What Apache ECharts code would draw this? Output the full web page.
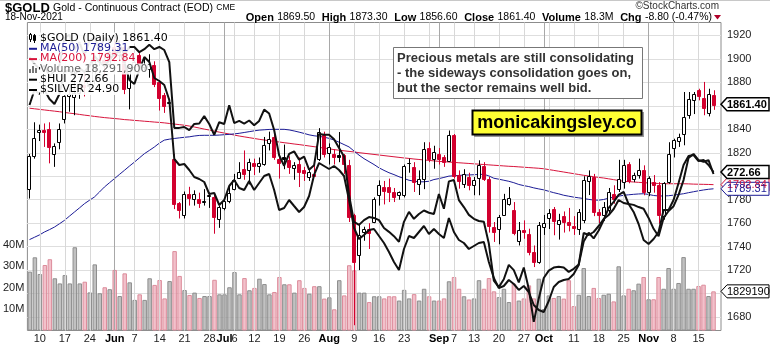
<!DOCTYPE html>
<html><head><meta charset="utf-8">
<script src="https://cdn.jsdelivr.net/npm/echarts@6/dist/echarts.min.js"></script>
<style>html,body{margin:0;padding:0;background:#fff;}#c{width:770px;height:346px;}</style>
</head><body><div id="c"></div>
<script>
// ---------- DATA ----------
const dates = [
'2021-05-06','2021-05-07','2021-05-10','2021-05-11','2021-05-12','2021-05-13','2021-05-14','2021-05-17','2021-05-18','2021-05-19','2021-05-20','2021-05-21','2021-05-24','2021-05-25','2021-05-26','2021-05-27','2021-05-28',
'2021-06-01','2021-06-02','2021-06-03','2021-06-04','2021-06-07','2021-06-08','2021-06-09','2021-06-10','2021-06-11','2021-06-14','2021-06-15','2021-06-16','2021-06-17','2021-06-18','2021-06-21','2021-06-22','2021-06-23','2021-06-24','2021-06-25','2021-06-28','2021-06-29','2021-06-30',
'2021-07-01','2021-07-02','2021-07-06','2021-07-07','2021-07-08','2021-07-09','2021-07-12','2021-07-13','2021-07-14','2021-07-15','2021-07-16','2021-07-19','2021-07-20','2021-07-21','2021-07-22','2021-07-23','2021-07-26','2021-07-27','2021-07-28','2021-07-29','2021-07-30',
'2021-08-02','2021-08-03','2021-08-04','2021-08-05','2021-08-06','2021-08-09','2021-08-10','2021-08-11','2021-08-12','2021-08-13','2021-08-16','2021-08-17','2021-08-18','2021-08-19','2021-08-20','2021-08-23','2021-08-24','2021-08-25','2021-08-26','2021-08-27','2021-08-30','2021-08-31',
'2021-09-01','2021-09-02','2021-09-03','2021-09-07','2021-09-08','2021-09-09','2021-09-10','2021-09-13','2021-09-14','2021-09-15','2021-09-16','2021-09-17','2021-09-20','2021-09-21','2021-09-22','2021-09-23','2021-09-24','2021-09-27','2021-09-28','2021-09-29','2021-09-30',
'2021-10-01','2021-10-04','2021-10-05','2021-10-06','2021-10-07','2021-10-08','2021-10-11','2021-10-12','2021-10-13','2021-10-14','2021-10-15','2021-10-18','2021-10-19','2021-10-20','2021-10-21','2021-10-22','2021-10-25','2021-10-26','2021-10-27','2021-10-28','2021-10-29',
'2021-11-01','2021-11-02','2021-11-03','2021-11-04','2021-11-05','2021-11-08','2021-11-09','2021-11-10','2021-11-11','2021-11-12','2021-11-15','2021-11-16','2021-11-17','2021-11-18'];

const opens = [1789,1818,1837,1839,1840,1819,1829,1848,1868,1868,1871,1878,1877,1882,1898,1899,1896,
1910,1903,1910,1875,1893,1903,1893,1892,1895,1880,1869,1862,1815,1777,1767,1785,1781,1781,1778,1783,1782,1764,
1773,1779,1789,1799,1806,1806,1811.5,1809,1811,1829,1833.5,1814.5,1816.4,1814,1806.4,1810.7,1805,1799.4,1802,1815,1835.4,
1820,1819.2,1818,1818,1809.9,1766.7,1732.6,1752.4,1755,1761,1783.8,1791,1790.8,1787,1784.3,1784,1810.7,1808,1793.6,1797.9,1824,1815,
1819.2,1816,1813.6,1835.4,1800.8,1793.6,1799,1792.3,1797.9,1808.7,1797.9,1756.7,1755.3,1767.2,1776.6,1771,1744.5,1754,1751,1735.4,1726.9,
1757,1764.4,1772.3,1760,1766,1761,1758,1755.3,1762.4,1795.7,1799.4,1769.5,1766.7,1771,1785,1789.4,1795.1,1810.7,1797.4,1800.8,1805,
1786.6,1795,1792.3,1766.7,1795.1,1823.5,1829.8,1836.3,1852,1865.6,1873.8,1866.7,1854.2,1869.5];
const highs = [1819,1846,1844,1845,1846,1828,1845,1869,1875,1890,1882,1890,1886,1900,1913,1905,1913,
1917,1916,1911,1894,1902,1905,1900,1904,1898,1882,1871,1866,1819,1778,1787,1791,1788,1786,1789,1786,1784,1775,
1780,1792,1802,1812,1822,1815,1815,1816,1833.5,1838,1840,1819,1827,1817,1812,1816,1808,1806,1810.7,1841,1838,
1828,1823,1837.7,1819,1814,1768,1759,1757,1760,1782,1796.5,1796,1798,1790,1787,1810,1815,1812,1805,1829,1829,1826,
1824,1818,1839,1836,1805,1806,1803,1799.4,1813.6,1812,1799.4,1761,1767,1785,1790.8,1778,1761,1762.4,1755.3,1741,1761,
1767,1772,1773.8,1768,1770,1773,1766,1772,1800,1805,1802,1772,1778,1790,1792.3,1814,1814,1812,1803,1815,1809.3,
1800,1801,1795,1795,1829,1832,1836.3,1871.8,1871.8,1871.8,1874.6,1880.4,1874.6,1873.3];
const lows = [1781,1815,1830,1825,1811,1808,1823,1845,1855,1852,1866,1868,1874,1878,1894,1885,1893,
1900,1898,1870,1857,1889,1888,1889,1884,1876,1856,1854,1859,1772,1764,1764,1775,1775,1773,1775,1773,1751,1756,
1771,1777,1788,1798,1797,1793,1801,1803,1809,1822,1814,1798,1806,1802,1797,1790.8,1796,1796,1800,1813,1816,
1810,1810,1812,1802,1761,1673,1720,1745,1738,1760,1775,1776,1778,1778,1780,1782,1803,1786.6,1784,1789,1812,1806.4,
1810,1808,1812.7,1798,1789.4,1790,1788,1783.8,1783.8,1796,1752,1744,1742,1766.7,1775,1749.7,1741,1746.7,1732.6,1722.6,1725.4,
1750,1755,1749.7,1746,1752,1753,1750,1750,1760,1784,1766,1760,1762,1768,1776.6,1786.6,1789.4,1794,1795,1798,1783.8,
1783,1786,1759.5,1763,1793.6,1816,1825,1826.4,1849,1853,1864.7,1852,1851,1856.6];
const closes = [1817,1833,1839,1837,1825,1826,1840,1868,1870,1871,1878,1876,1882,1898,1900,1896,1906,
1904,1909,1874,1892,1897,1894,1895,1896,1879,1866,1860,1863,1777,1771,1785,1782,1785,1778,1779,1784,1765,1774,
1779,1786,1796.5,1804,1802,1812.5,1808.7,1811.5,1827,1832,1816.4,1811.5,1814.4,1808,1809.3,1804.2,1802.2,1803.6,1800.5,1837.7,1819.2,
1825,1816.4,1816.5,1810.7,1765.2,1727,1749.7,1755.3,1752,1780.9,1792.3,1788,1786.6,1783,1786.6,1808.7,1810.9,1795,1797.9,1823.5,1815,1820.7,
1815,1812,1835.4,1800.8,1795.7,1802.2,1792,1796.5,1809.3,1798,1758.2,1752.5,1765.3,1780.9,1781.5,1751,1754,1752,1735.4,1726.9,1758.7,
1760,1769,1762.4,1763,1761,1758.7,1756,1769.5,1796.5,1800.2,1769.5,1767,1773.8,1786.6,1780.9,1797.9,1809.3,1796.5,1800.8,1805,1786.6,
1798.5,1792.3,1766.7,1794.5,1819.2,1830.6,1833.5,1850.5,1865.6,1870.4,1868.4,1858.2,1870.2,1861.4];
// volume in millions
const volumesM = [27.5,34.2,26.4,30.6,33.3,24.4,22,25.9,22,38.9,
22,22.8,17.8,30.9,17.4,20.2,19.3,28.3,16.1,26.7,
22.5,14.3,16.9,14.3,24.4,21.3,23.6,15,23.1,37.1,
25.5,18.9,16.6,17.7,15.2,16.1,16.1,23.7,16.9,16.9,
20.2,27.3,16.9,24.5,18.8,19.9,24.2,21.7,16.9,18,
25,21.6,21.6,17.7,23.5,19.9,17.2,20.7,20.7,14.9,
15.5,9.9,23.5,16.4,30.5,28.1,17.7,17.7,13.3,16,
16,15,16,16,14,19,15,17,14,19.5,
16,14,14,15,23,25,19.5,16,14.5,15,
23.5,19.5,24.5,18.3,15.6,19.5,13.3,21.9,14,15,
21.1,15,24.2,10,16.4,15.2,16.1,14.9,23.5,11.4,
16.7,29.2,16.1,19.9,15.2,16.7,17.2,13.6,30,16.4,
19.5,18.8,21.9,25,14.6,14.6,25,19.5,29.2,19.5,
22.2,34.3,19.5,19.5,20.8,21.4,16.1,18.2919];
const ma50 = [1746,1748,1750,1752.5,1754.5,1756.7,1759.5,1762.4,1766,1769.5,
1773,1776.6,1779.5,1782.3,1786.5,1790.8,1794.4,1797.9,1801.5,1805,
1808.6,1812,1815.6,1819.2,1822,1824.9,1828.2,1830.8,1831.6,1832.2,
1832.7,1833.2,1833.6,1834.3,1834.8,1834.9,1834.9,1834.9,1835.1,1835.4,
1835.7,1836.1,1836.6,1837.3,1838,1838.7,1839.3,1839.6,1839.9,1840,
1840,1840,1839.5,1838.6,1837.6,1836.5,1835.3,1834.5,1834,1833.3,
1832.3,1830.9,1829,1827,1825,1821.5,1818,1815,1812.5,1810,
1807.2,1805,1803,1801.4,1799.6,1798.1,1796.6,1795.8,1795.2,1795.3,
1795.7,1797.2,1798,1799,1800.1,1800.4,1800.7,1801,1801.1,1801.3,
1801.5,1801.7,1800.3,1798.3,1797.5,1796.6,1795.7,1794.5,1793,1792,
1791.2,1790.1,1789.2,1788.4,1787.2,1786,1785,1783.8,1783,1782.2,
1781.6,1781,1780.3,1779.7,1779.6,1780.2,1781.3,1782.2,1783,1783.8,
1784.2,1784.6,1784.9,1785.1,1784.5,1783.6,1783.2,1783.2,1783.4,1783.9,
1784.5,1785.1,1786,1786.8,1787.6,1788.3,1788.9,1789.31];
const ma200 = [1858,1857.5,1857,1856.5,1856,1855.5,1855,1854.4,1853.8,1853.3,
1852.7,1852.1,1851.6,1851,1850.5,1850,1849.6,1849.2,1848.8,1848.3,
1848,1847.6,1847.3,1846.9,1846.6,1846.2,1845.9,1845.5,1845,1844.5,
1844,1843.5,1842.8,1842,1841.1,1840.2,1839.4,1838.5,1837.6,1836.8,
1836,1835.1,1834.3,1833.6,1832.9,1832.2,1831.5,1830.9,1830.3,1829.7,
1829.2,1828.6,1828.1,1827.5,1827,1826.4,1825.8,1825.2,1824.6,1824,
1823.4,1822.7,1822.2,1821.7,1821.2,1820.7,1820.1,1819.6,1819.1,1818.6,
1818.1,1817.6,1817.1,1816.6,1816.1,1815.6,1815.2,1814.7,1814.3,1813.9,
1813.5,1813.1,1812.7,1812.4,1812.1,1811.8,1811.5,1811.2,1810.9,1810.6,
1810.3,1810,1809.7,1809.4,1809.1,1808.8,1808.5,1808.3,1808,1807.7,
1807.4,1807.1,1806.8,1806.4,1805.7,1805,1804.3,1803.6,1802.9,1802.2,
1801.5,1800.8,1800.2,1799.6,1799,1798.5,1797.8,1797.1,1796.4,1795.7,
1795.4,1795.1,1794.8,1794.5,1794.3,1794.1,1793.8,1793.6,1793.6,1793.6,
1793.6,1793.6,1793.5,1793.3,1793.2,1793.1,1793,1792.84];
const hui = [298.43,304.20,302.66,304.20,300.74,298.81,302.66,311.12,311.89,309.58,
312.66,311.12,313.43,317.28,314.97,313.43,315.74,318.04,318.81,314.97,
308.04,306.51,311.89,316.89,314.97,308.81,307.66,306.12,300.35,277.66,
275.35,275.74,273.43,270.74,269.97,268.81,264.20,264.58,259.97,261.89,
267.28,269.58,266.51,265.74,269.20,265.74,268.43,271.12,271.89,265.74,
258.04,258.81,261.89,259.58,257.28,259.20,263.43,271.51,276.12,274.97,
273.81,274.97,273.43,271.12,261.89,251.12,246.89,248.43,250.35,250.74,
248.04,245.35,241.89,238.04,234.97,243.04,248.04,247.28,249.58,251.89,
248.81,250.74,248.81,247.28,254.97,249.58,246.51,245.35,243.04,244.20,
245.35,245.74,238.04,231.89,228.04,228.81,231.12,229.58,227.28,228.81,
226.51,221.51,219.58,218.81,223.04,228.43,230.35,231.12,231.51,233.43,
236.89,249.20,248.43,249.58,251.89,254.58,256.12,258.43,261.89,260.74,
260.35,257.28,252.66,246.51,244.97,246.89,249.58,258.04,258.04,261.89,
268.43,275.35,278.81,279.20,276.89,277.28,275.35,272.66];
const silver = [27.59,27.43,27.32,27.39,27.15,27.27,27.40,28.03,28.10,27.76,
27.93,27.62,27.96,28.06,27.73,28.03,27.97,28.10,27.88,27.64,
27.82,27.82,27.70,27.77,27.87,27.77,27.82,27.75,27.47,25.96,
25.96,25.98,25.91,26.05,26.06,26.23,26.05,25.80,26.09,26.05,
26.48,26.07,26.12,26.06,26.13,26.02,26.12,26.38,26.29,25.91,
25.33,25.09,25.36,25.42,25.23,25.30,25.00,25.10,25.82,25.80,
25.80,25.70,25.50,25.30,24.42,23.80,23.73,23.84,23.91,23.89,
23.84,23.66,23.57,23.47,23.34,23.80,24.03,23.87,23.98,24.06,
24.01,23.98,24.44,24.10,24.73,24.76,24.30,24.14,23.96,23.87,
23.82,23.80,23.30,22.45,22.30,22.48,22.81,22.69,22.41,22.75,
22.26,21.50,22.04,22.51,22.68,22.75,22.77,22.75,22.65,22.72,
22.82,23.35,23.55,23.42,23.60,23.84,24.12,24.26,24.42,24.49,
24.21,24.19,24.14,24.10,23.89,23.64,23.47,23.89,24.05,24.16,
24.42,24.76,25.27,25.36,25.22,25.18,25.22,24.90];

const tickDates = ['2021-05-10','2021-05-17','2021-05-24','2021-06-01','2021-06-07','2021-06-14','2021-06-21','2021-06-28','2021-07-01','2021-07-06','2021-07-12','2021-07-19','2021-07-26','2021-08-02','2021-08-09','2021-08-16','2021-08-23','2021-09-01','2021-09-07','2021-09-13','2021-09-20','2021-09-27','2021-10-01','2021-10-11','2021-10-18','2021-10-25','2021-11-01','2021-11-08','2021-11-15'];
const tickLabels = ['10','17','24','Jun','7','14','21','28','Jul','6','12','19','26','Aug','9','16','23','Sep','7','13','20','27','Oct','11','18','25','Nov','8','15'];
const weekLineDates = ['2021-05-10','2021-05-17','2021-05-24','2021-06-07','2021-06-14','2021-06-21','2021-06-28','2021-07-06','2021-07-12','2021-07-19','2021-07-26','2021-08-09','2021-08-16','2021-08-23','2021-08-30','2021-09-07','2021-09-13','2021-09-20','2021-09-27','2021-10-04','2021-10-11','2021-10-18','2021-10-25','2021-11-08','2021-11-15'];
const monthLineDates = ['2021-06-01','2021-07-01','2021-08-02','2021-09-01','2021-10-01','2021-11-01'];
const noteLines = ['Precious metals are still consolidating','- the sideways consolidation goes on,','but the sector remains well bid.'];
const siteText = 'monicakingsley.co';
const lastVolumeShares = 18291900;

// ---------- CHART ----------
const RED = '#d2002e', NAVY = '#1c1c96', MARED = '#d8143c';
const FONT = '"Liberation Sans", Arial, sans-serif';
const LFONT = '"DejaVu Sans", Verdana, sans-serif';
const N = dates.length;
const cats = dates.concat(['']); // one empty slot at the right edge, as in the reference
const labelMap = {};
tickDates.forEach((d, k) => { labelMap[d] = tickLabels[k]; });

const candleData = dates.map((d, i) => [i, opens[i], highs[i], lows[i], closes[i]]);
const upVol = {color: 'rgba(172,172,172,0.75)', borderColor: '#8e8e8e', borderWidth: 1};
const dnVol = {color: 'rgba(238,176,188,0.78)', borderColor: '#dc8c9b', borderWidth: 1};
const volData = volumesM.map((v, i) => ({value: v, itemStyle: (i === 0 || closes[i] >= closes[i - 1]) ? upVol : dnVol}));

function renderCandle(params, api) {
  const i = api.value(0);
  const o = api.value(1), h = api.value(2), l = api.value(3), c = api.value(4);
  const prev = i > 0 ? closes[i - 1] : o;
  const col = c >= prev ? '#000' : RED;
  const pO = api.coord([i, o]), pC = api.coord([i, c]);
  const pH = api.coord([i, h]), pL = api.coord([i, l]);
  const xc = Math.round(pO[0]);
  const top = Math.min(pO[1], pC[1]), bot = Math.max(pO[1], pC[1]);
  const hollow = c > o;
  return {type: 'group', children: [
    {type: 'line', shape: {x1: xc + 0.5, y1: pH[1], x2: xc + 0.5, y2: pL[1]}, style: {stroke: col, lineWidth: 1}},
    {type: 'rect', shape: {x: xc - 1.5, y: Math.round(top) + 0.5, width: 3, height: Math.max(Math.round(bot - top), 0)},
      style: {fill: hollow ? '#fff' : col, stroke: col, lineWidth: 1}}
  ]};
}

const chart = echarts.init(document.getElementById('c'), null, {renderer: 'canvas'});
const baseOption = {
  animation: false,
  backgroundColor: '#fff',
  grid: [
    {left: 27, right: 49, top: 12, bottom: 5.5, show: false},
    {left: 27, right: 49, top: 22.5, bottom: 15.5, show: true, borderColor: '#8c8c8c', borderWidth: 1}
  ],
  xAxis: [
    {gridIndex: 0, type: 'category', data: cats, show: false},
    {gridIndex: 1, type: 'category', data: cats, axisLine: {show: false}, axisTick: {show: false}, splitLine: {show: false},
      axisLabel: {interval: 0, margin: 3, fontSize: 11, fontFamily: FONT, color: '#222',
        formatter: function (v) { const t = labelMap[v]; if (!t) return ''; return isNaN(+t) ? '{m|' + t + '}' : t; },
        rich: {m: {fontWeight: 'bold', fontSize: 11, fontFamily: FONT, color: '#000'}}}}
  ],
  yAxis: [
    {gridIndex: 0, type: 'value', position: 'right', min: 1660, max: 1940, interval: 20,
      axisLine: {show: false}, axisTick: {show: false},
      axisLabel: {margin: 6, showMinLabel: false, showMaxLabel: false, fontSize: 11, fontFamily: FONT, color: '#222', formatter: v => String(v)},
      splitLine: {show: true, showMinLine: false, showMaxLine: false, lineStyle: {color: '#dedede', width: 1}}},
    {gridIndex: 0, type: 'value', min: 207.85, max: 334.2, show: false, splitLine: {show: false}},
    {gridIndex: 0, type: 'value', min: 21.0724, max: 28.624, show: false, splitLine: {show: false}},
    {gridIndex: 1, type: 'value', position: 'left', min: 0, max: 143.9, interval: 10,
      axisLine: {show: false}, axisTick: {show: false}, splitLine: {show: false},
      axisLabel: {margin: 3, fontSize: 11, fontFamily: FONT, color: '#222', formatter: v => (v >= 10 && v <= 40) ? v + 'M' : ''}}
  ],
  series: [
    {type: 'bar', name: 'Volume', xAxisIndex: 1, yAxisIndex: 3, data: volData, barCategoryGap: '10%', z: 1, silent: true,
      markLine: {silent: true, symbol: ['none', 'none'], label: {show: false}, animation: false,
        data: weekLineDates.map(d => ({xAxis: d, lineStyle: {color: '#d8d8d8', width: 1, type: 'solid'}}))
          .concat(monthLineDates.map(d => ({xAxis: d, lineStyle: {color: '#a8a8a8', width: 1, type: 'solid'}})))}},
    {type: 'line', name: 'MA200', xAxisIndex: 0, yAxisIndex: 0, data: ma200, symbol: 'none', z: 3, silent: true,
      lineStyle: {color: MARED, width: 1}},
    {type: 'line', name: 'MA50', xAxisIndex: 0, yAxisIndex: 0, data: ma50, symbol: 'none', z: 3, silent: true,
      lineStyle: {color: NAVY, width: 1}},
    {type: 'custom', name: '$GOLD', xAxisIndex: 0, yAxisIndex: 0, data: candleData, renderItem: renderCandle, z: 5, silent: true,
      encode: {x: 0, y: [1, 2, 3, 4]}},
    {type: 'line', name: '$HUI', xAxisIndex: 0, yAxisIndex: 1, data: hui, symbol: 'none', z: 6, silent: true,
      lineStyle: {color: '#111', width: 2}},
    {type: 'line', name: '$SILVER', xAxisIndex: 0, yAxisIndex: 2, data: silver, symbol: 'none', z: 6, silent: true,
      lineStyle: {color: '#111', width: 2}}
  ]
};
chart.setOption(baseOption);

// ---------- TEXT / ANNOTATIONS ----------
const L = N - 1;
const chg = closes[L] - closes[L - 1];
const pct = chg / closes[L - 1] * 100;
const f2 = v => v.toFixed(2);
const g = [];
g.push({type: 'line', z: 100, shape: {x1: 0, y1: 0.5, x2: 770, y2: 0.5}, style: {stroke: '#c8c8c8', lineWidth: 1}});
g.push({type: 'text', z: 100, style: {x: 5, y: 8, textVerticalAlign: 'middle',
  text: '{a|$GOLD} {b|Gold - Continuous Contract (EOD)} {c|CME}',
  rich: {a: {font: 'bold 13px ' + FONT, fill: '#000'}, b: {font: '10.5px ' + FONT, fill: '#000'}, c: {font: '8.5px ' + FONT, fill: '#000'}}}});
g.push({type: 'text', z: 100, style: {x: 5, y: 17.5, textVerticalAlign: 'middle', text: '18-Nov-2021', font: '10px ' + FONT, fill: '#000'}});
g.push({type: 'text', z: 100, style: {x: 719, y: 6.5, textAlign: 'right', textVerticalAlign: 'middle', text: '\u00a9StockCharts.com', font: '10px ' + FONT, fill: '#333'}});
g.push({type: 'text', z: 100, style: {x: 712, y: 17.5, textAlign: 'right', textVerticalAlign: 'middle',
  text: '{b|Open} {n|' + f2(opens[L]) + '}  {b|High} {n|' + f2(highs[L]) + '}  {b|Low} {n|' + f2(lows[L]) + '}  {b|Close} {n|' + f2(closes[L]) +
        '}  {b|Volume} {n|' + (lastVolumeShares / 1e6).toFixed(1) + 'M}  {b|Chg} {n|' + f2(chg) + ' (' + f2(pct) + '%)}',
  rich: {b: {font: 'bold 11px ' + FONT, fill: '#000'}, n: {font: '10.5px ' + FONT, fill: '#000'}}}});
g.push({type: 'polygon', z: 100, shape: {points: [[714, 15], [721, 15], [717.5, 19.5]]}, style: {fill: '#b0002a'}});

// legend rows
const legendRows = [
  {text: '$GOLD (Daily) ' + f2(closes[L]), color: '#000', icon: 'candle'},
  {text: 'MA(50) ' + f2(ma50[L]), color: NAVY, icon: 'line', ic: NAVY},
  {text: 'MA(200) ' + f2(ma200[L]), color: MARED, icon: 'line', ic: MARED},
  {text: 'Volume ' + lastVolumeShares.toLocaleString('en-US'), color: '#666', icon: 'bars'},
  {text: '$HUI ' + f2(hui[L]), color: '#000', icon: 'line', ic: '#000'},
  {text: '$SILVER ' + f2(silver[L]), color: '#000', icon: 'line', ic: '#000'}
];
legendRows.forEach((r, k) => {
  const y = 38 + k * 10.3;
  g.push({type: 'rect', z: 99, shape: {x: 28, y: y - 5, width: 11, height: 10}, style: {fill: 'rgba(255,255,255,0.9)'}});
  g.push({type: 'text', z: 100, style: {x: 40, y: y, textVerticalAlign: 'middle', text: r.text, font: '11px ' + LFONT, fill: r.color,
    backgroundColor: 'rgba(255,255,255,0.9)', padding: [0, 1, 0, 0]}});
  if (r.icon === 'line') {
    g.push({type: 'line', z: 101, shape: {x1: 29, y1: y + 0.5, x2: 37, y2: y + 0.5}, style: {stroke: r.ic, lineWidth: 2}});
  } else if (r.icon === 'bars') {
    [[29, 4], [32, 7], [35, 5]].forEach(b => g.push({type: 'rect', z: 101, shape: {x: b[0], y: y + 4 - b[1], width: 2, height: b[1]}, style: {fill: '#777'}}));
  } else {
    g.push({type: 'line', z: 101, shape: {x1: 30.5, y1: y - 5, x2: 30.5, y2: y + 4}, style: {stroke: '#000', lineWidth: 1}});
    g.push({type: 'rect', z: 101, shape: {x: 29.5, y: y - 3.5, width: 2, height: 5}, style: {fill: '#fff', stroke: '#000', lineWidth: 1}});
    g.push({type: 'line', z: 101, shape: {x1: 34.5, y1: y - 4, x2: 34.5, y2: y + 5}, style: {stroke: '#000', lineWidth: 1}});
    g.push({type: 'rect', z: 101, shape: {x: 33.5, y: y - 2.5, width: 2, height: 5}, style: {fill: '#000', stroke: '#000', lineWidth: 1}});
  }
});

// comment box
g.push({type: 'rect', z: 100, shape: {x: 393.5, y: 47.5, width: 249, height: 51}, style: {fill: '#fff', stroke: '#777', lineWidth: 1}});
noteLines.forEach((t, k) => {
  g.push({type: 'text', z: 101, style: {x: 397, y: 58.5 + k * 15, textVerticalAlign: 'middle', text: t, font: 'bold 13px ' + FONT, fill: '#333'}});
});
// site box
g.push({type: 'rect', z: 100, shape: {x: 474, y: 112, width: 170, height: 25}, style: {fill: '#999'}});
g.push({type: 'rect', z: 101, shape: {x: 472.5, y: 110.5, width: 169, height: 24}, style: {fill: '#ffff33', stroke: '#000', lineWidth: 2}});
g.push({type: 'text', z: 102, style: {x: 557, y: 123, textAlign: 'center', textVerticalAlign: 'middle', text: siteText, font: 'bold 18px ' + FONT, fill: '#000'}});

// right-axis value tags, positioned through the axes' own scales
function tag(y, text, stroke, txtColor, bold, lw) {
  return {type: 'group', z: 110, children: [
    {type: 'polygon', z: 110, shape: {points: [[721, y], [727, y - 6.5], [769, y - 6.5], [769, y + 6.5], [727, y + 6.5]]},
      style: {fill: '#fff', stroke: stroke, lineWidth: lw || 1}},
    {type: 'text', z: 111, style: {x: 727, y: y + 0.5, textVerticalAlign: 'middle', text: text, fill: txtColor,
      font: (bold ? 'bold ' : '') + '11px ' + FONT}}
  ]};
}
const yPrice = v => chart.convertToPixel({yAxisIndex: 0}, v);
g.push(tag(yPrice(ma200[L]), f2(ma200[L]), MARED, MARED, false));
g.push(tag(yPrice(ma50[L]), f2(ma50[L]), NAVY, NAVY, false));
g.push(tag(chart.convertToPixel({yAxisIndex: 1}, hui[L]), f2(hui[L]), '#000', '#000', true, 1.5));
// the reference tag box only has room for the first seven digits of the volume
g.push(tag(chart.convertToPixel({yAxisIndex: 3}, volumesM[L]), String(lastVolumeShares).slice(0, 7), '#000', '#000', false));
g.push(tag(yPrice(closes[L]), f2(closes[L]), '#000', '#000', true, 1.5));

chart.setOption({graphic: g});
</script>
</body></html>
